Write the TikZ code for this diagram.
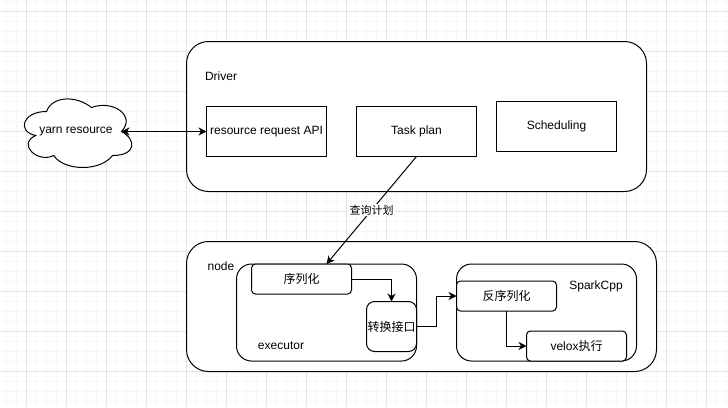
\documentclass[tikz,border=0pt]{standalone}
\usepackage{fontspec}
\usepackage{tikz}
\usetikzlibrary{arrows.meta}
\setmainfont{Liberation Sans}
\newfontfamily\cjk{Noto Sans CJK SC}

\begin{document}
\begin{tikzpicture}[x = 1pt, y = -1pt, line width = 1pt, >={Stealth[length = 8pt, width = 8pt, inset = 2.5pt]},
                        every node/.style = {font = \fontsize{12}{14}\selectfont, inner sep = 0pt, outer sep = 0pt},
                        bigbox/.style = {rectangle, draw, fill = white, rounded corners = 22pt},
                        midbox/.style = {rectangle, draw, fill = white, rounded corners = 15pt},
                        smallbox/.style = {rectangle, draw, fill = white, rounded corners = 4pt},
                        plainbox/.style = {rectangle, draw, fill = white, minimum width = 120pt, minimum height = 50pt},
                        linktext/.style = {fill = white, inner sep = 1pt, font = \fontsize{11}{13}\selectfont}]
      \useasboundingbox (0, 0) rectangle (728, 407);
      \fill [white] (0, 0) rectangle (728, 407);
      % grid
      \foreach \i in {0, ..., 72} \draw [line width = 0.8pt, black!3] (6.5 + 10*\i, 0) -- (6.5 + 10*\i, 407);
      \foreach \i in {0, ..., 40} \draw [line width = 0.8pt, black!3] (0, 1.5 + 10*\i) -- (728, 1.5 + 10*\i);
      \foreach \i in {0, ..., 17} \draw [line width = 0.8pt, black!11] (26.5 + 40*\i, 0) -- (26.5 + 40*\i, 407);
      \foreach \i in {0, ..., 9} \draw [line width = 0.8pt, black!11] (0, 11.5 + 40*\i) -- (728, 11.5 + 40*\i);

      % cloud
      \begin{scope}[shift = {(16.5, 91.5)}, x = 120pt, y = -80pt]
        \draw [fill = white] (0.25, 0.25) .. controls (0.05, 0.25) and (0, 0.5) .. (0.16, 0.55)
          .. controls (0, 0.66) and (0.18, 0.9) .. (0.31, 0.8)
          .. controls (0.4, 1) and (0.7, 1) .. (0.8, 0.8)
          .. controls (1, 0.8) and (1, 0.6) .. (0.875, 0.5)
          .. controls (1, 0.3) and (0.8, 0.1) .. (0.625, 0.2)
          .. controls (0.5, 0.05) and (0.3, 0.05) .. (0.25, 0.25) -- cycle;
      \end{scope}
      \node (yarn) at (76, 132){yarn resource};
      \coordinate (yarnend) at (121.5, 131.5);

      % driver
      \node [bigbox, minimum width = 460pt, minimum height = 150pt] (driver) at (416.5, 116.5){};
      \node (drivertext) at (221, 76){Driver};
      \node [plainbox] (request) at (266.5, 131.5){resource request API};
      \node [plainbox] (taskplan) at (416.5, 131.5){Task plan};
      \node [plainbox] (sched) at (556.5, 126.5){Scheduling};

      % node
      \node [bigbox, minimum width = 470pt, minimum height = 130pt] (worker) at (421.5, 306.5){};
      \node (workertext) at (221, 266){node};
      \node [midbox, minimum width = 180pt, minimum height = 97pt] (executor) at (326.5, 312.5){};
      \node (executortext) at (281, 346){executor};
      \node [smallbox, minimum width = 100pt, minimum height = 30pt] (serial) at (301.5, 279){\cjk 序列化};
      \node [smallbox, rounded corners = 8pt, minimum width = 50pt, minimum height = 50pt] (convert) at (391.5, 326.5){\cjk 转换接口};
      \node [midbox, minimum width = 180pt, minimum height = 97pt] (spark) at (546.5, 312.5){};
      \node (sparktext) at (596, 286){SparkCpp};
      \node [smallbox, minimum width = 100pt, minimum height = 30pt] (deserial) at (506.5, 296){\cjk 反序列化};
      \node [smallbox, minimum width = 100pt, minimum height = 30pt] (velox) at (576.5, 346){velox{\cjk 执行}};

      \coordinate (planend) at (326.5, 264);
      \draw [<->] (yarnend) -- (request.west);
      \draw [->] (taskplan.south) -- node [linktext] (query) {\cjk 查询计划} (planend);
      \draw [->] (serial.east) -| (convert.north);
      \draw [->] (convert.east) -- (436.5, 326.5) |- (deserial.west);
      \draw [->] (deserial.south) |- (velox.west);

      \end{tikzpicture}
\end{document}
